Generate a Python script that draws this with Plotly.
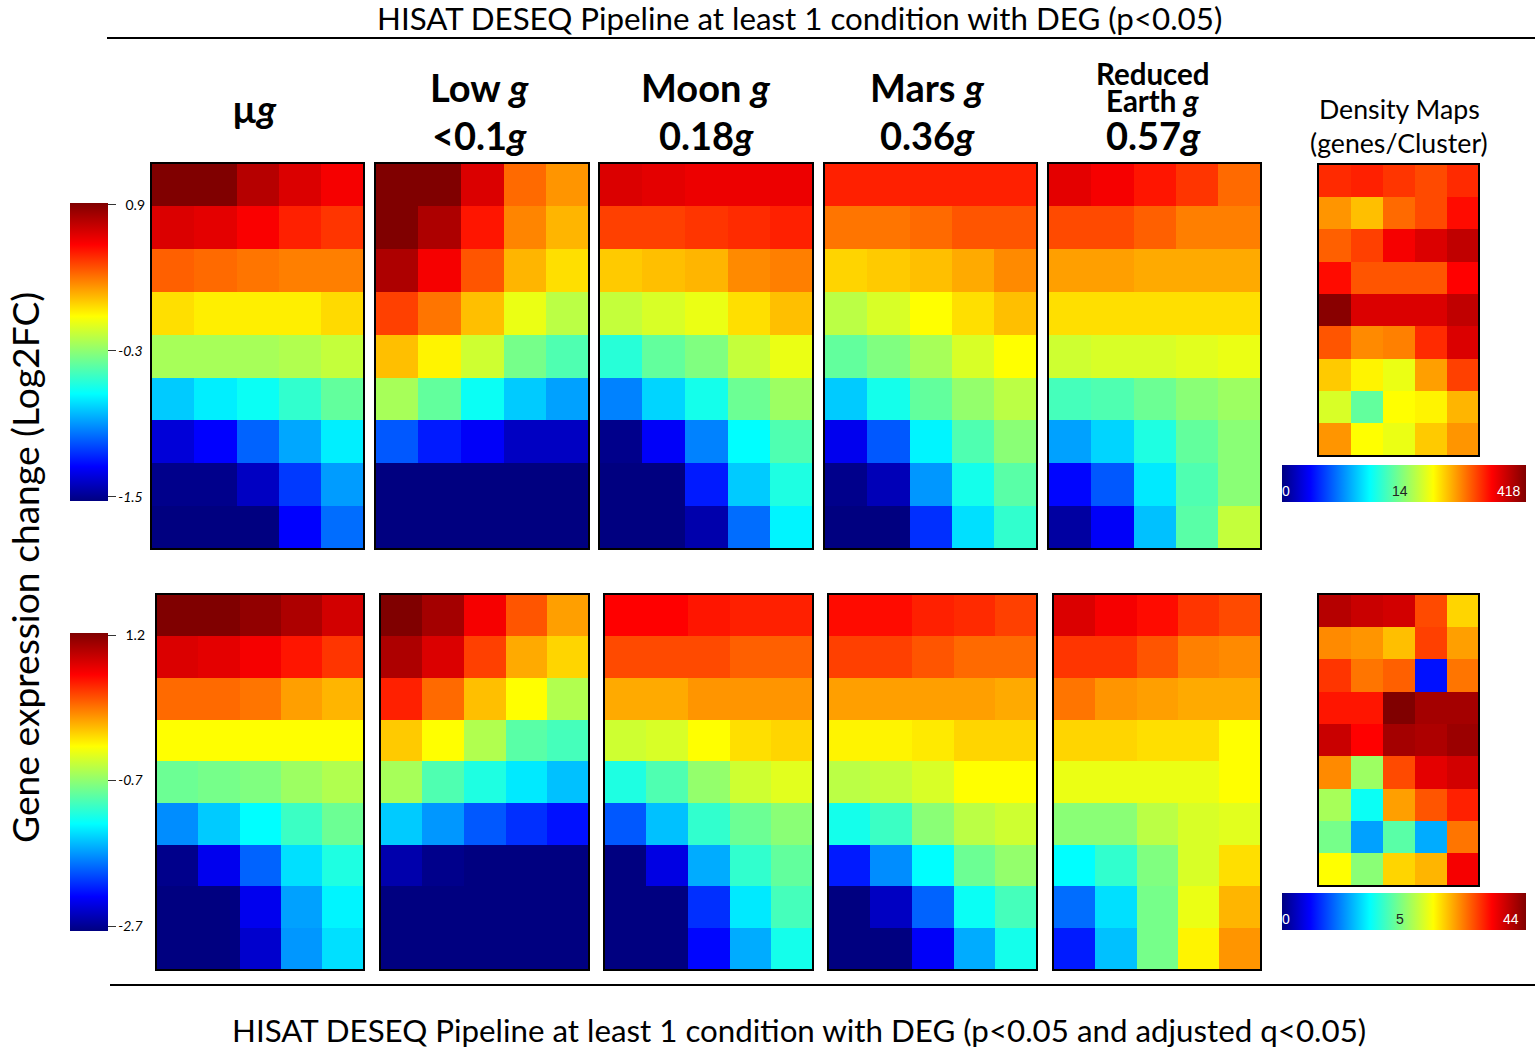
import plotly.graph_objects as go

# Cell values as positions (0-100) along each panel's colour bar.
ug_top = [[100,100,94,90,87],[90,89,86.5,83,81],[77,76,75,74,74],[65,63.5,63.5,63.5,65.5],[53,53,53,54,56],
          [31,34.5,37,41,46],[8,11.5,21,27.5,34.5],[1,1,6,17,26.5],[0,0,0,11.5,22]]
low_top = [[100,100,90,76,72],[100,95,84,73.5,69],[95,87,78,69,65],[80,75,68,60,55],[68,63,57,48,44],
           [53,46,37,31,27],[20,14,11,6,6],[0,0,0,0,0],[0,0,0,0,0]]
moon_top = [[90,89,88,88,88],[80,80,81,82,83],[67,68,69,73,74],[56,58,60,65,68],[40,46,49,56,60],
            [24,32,38,47,52],[1,11,24,36,44],[0,0,14,31,39],[0,0,4,22,35]]
mars_top = [[83,83,83,83,83],[75,75,76,78,78],[66,67,68,70,73],[55,58,62,65,68],[46,49,53,58,62],
            [31,38,46,51,55],[10,20,35,44,50],[1,5,26,38,45],[0,0,16,33,41]]
earth_top = [[89,87,84,81,76],[79,79,77,74,74],[71,71,70,70,70],[65,65,65,65,65],[57,58,58,59,60],
             [43,44,47,50,52],[27,32,39,46,50],[12,20,34,44,50],[3,11,30,45,56]]
density_top = [[82,83,81,79,82],[72,68,76,79,85],[77,80,87,90,93],[85,78,78,78,86],[99,90,90,90,93],
               [78,73,74,82,90],[67,63,60,71,80],[58,46,62,63,69],[72,62,60,67,72]]

ug_bot = [[100,100,98,95,91],[90,89,87,84,81],[76,76,75,71,69],[62,62,62,62,62],[47,48,49,52,54],
          [25,31,36,42,47],[1,10,21,33,39],[0,0,10,27,35],[0,0,7,26,33]]
low_bot = [[100,96,87,78,71],[95,90,80,70,66],[83,76,68,62,54],[67,62,54,45,43],[53,44,39,34,30],
           [31,26,20,16,13],[4,1,0,0,0],[0,0,0,0,0],[0,0,0,0,0]]
moon_bot = [[86,86,84,83,83],[79,79,79,77,77],[70,70,72,72,72],[57,58,62,65,66],[39,44,51,57,59],
            [20,30,41,47,50],[0,9,28,41,46],[0,0,16,34,43],[0,0,12,28,38]]
mars_bot = [[85,85,83,82,80],[80,80,78,76,76],[71,71,71,71,70],[63,63,64,66,66],[55,56,58,62,62],
            [38,42,50,55,57],[14,25,36,47,51],[0,6,21,37,43],[0,0,11,28,38]]
earth_bot = [[90,87,85,81,79],[81,81,78,74,73],[75,72,71,70,70],[66,66,65,65,62],[60,60,60,60,62],
             [50,50,55,58,59],[36,41,49,58,65],[22,33,48,60,69],[14,30,48,63,72]]
density_bot = [[94,92,91,79,66],[73,72,68,80,71],[81,75,77,13,75],[84,84,100,96,96],[92,86,96,95,97],
               [73,52,79,89,91],[53,37,71,78,83],[48,27,45,28,75],[62,50,66,69,87]]

title_top = "HISAT DESEQ Pipeline at least 1 condition with DEG (p&lt;0.05)"
title_bot = "HISAT DESEQ Pipeline at least 1 condition with DEG (p&lt;0.05 and adjusted q&lt;0.05)"
y_title = "Gene expression change (Log2FC)"
density_title = ["Density Maps", "(genes/Cluster)"]
ticks_top = [0.9, -0.3, -1.5]
ticks_bot = [1.2, -0.75, -2.7]
ticktext_top = ["&nbsp;&nbsp;0.9", "<i>-0.3</i>", "<i>-1.5</i>"]
ticktext_bot = ["&nbsp;&nbsp;1.2", "<i>-0.7</i>", "<i>-2.7</i>"]

W, H = 1535, 1050
JET = [[0, "rgb(0,0,128)"], [0.115, "rgb(0,0,255)"], [0.36, "rgb(0,255,255)"], [0.49, "rgb(128,255,128)"],
       [0.62, "rgb(255,255,0)"], [0.86, "rgb(255,0,0)"], [1, "rgb(128,0,0)"]]
FONT = "Lato"

fig = go.Figure()
layout = {}


def to_fc(rows, lo, hi):
    return [[lo + (hi - lo) * c / 100 for c in r] for r in rows]


def panel(n, z, box, ca):
    x0, x1, y0, y1 = box
    suffix = "" if n == 1 else str(n)
    fig.add_trace(go.Heatmap(z=z, coloraxis=ca, xaxis="x" + suffix, yaxis="y" + suffix, hoverongaps=False))
    common = dict(showline=True, mirror=True, linecolor="black", linewidth=1.5, showgrid=False,
                  zeroline=False, showticklabels=False, ticks="", fixedrange=True)
    layout["xaxis" + suffix] = dict(domain=[(x0 + 0.7) / W, (x1 - 0.7) / W], anchor="y" + suffix, **common)
    layout["yaxis" + suffix] = dict(domain=[1 - (y1 - 0.7) / H, 1 - (y0 + 0.7) / H], anchor="x" + suffix,
                                    autorange="reversed", **common)


lo_t, hi_t = -1.533, 0.916
lo_b, hi_b = -2.767, 1.227
top_x = [(151, 364), (375, 589), (599, 813), (824, 1037), (1048, 1261)]
bot_x = [(156, 364), (380, 589), (604, 813), (828, 1037), (1053, 1261)]
n = 1
for z, (a, b) in zip([ug_top, low_top, moon_top, mars_top, earth_top], top_x):
    panel(n, to_fc(z, lo_t, hi_t), (a, b, 163, 549), "coloraxis")
    n += 1
panel(n, density_top, (1318, 1479, 164, 456), "coloraxis3")
n += 1
for z, (a, b) in zip([ug_bot, low_bot, moon_bot, mars_bot, earth_bot], bot_x):
    panel(n, to_fc(z, lo_b, hi_b), (a, b, 594, 970), "coloraxis2")
    n += 1
panel(n, density_bot, (1318, 1479, 594, 886), "coloraxis4")


def vbar(top, ticks, text):
    return dict(x=70 / W, xanchor="left", y=1 - top / H, yanchor="top", lenmode="pixels", len=298,
                thicknessmode="pixels", thickness=38, xpad=0, ypad=0, outlinewidth=0, tickmode="array",
                tickvals=ticks, ticktext=text, ticks="outside", ticklen=8, tickwidth=1, tickcolor="#333",
                tickfont=dict(family=FONT, size=14, color="black"))


def hbar(top):
    return dict(orientation="h", x=1282 / W, xanchor="left", y=1 - top / H, yanchor="top", lenmode="pixels",
                len=244, thicknessmode="pixels", thickness=37, xpad=0, ypad=0, outlinewidth=0,
                ticks="", showticklabels=False)


layout["coloraxis"] = dict(colorscale=JET, cmin=lo_t, cmax=hi_t, colorbar=vbar(203, ticks_top, ticktext_top))
layout["coloraxis2"] = dict(colorscale=JET, cmin=lo_b, cmax=hi_b, colorbar=vbar(633, ticks_bot, ticktext_bot))
layout["coloraxis3"] = dict(colorscale=JET, cmin=0, cmax=100, colorbar=hbar(465))
layout["coloraxis4"] = dict(colorscale=JET, cmin=0, cmax=100, colorbar=hbar(893))


def note(x, y, text, size, color="black", angle=0, family=FONT):
    return dict(x=x / W, y=1 - y / H, xref="paper", yref="paper", text=text, showarrow=False,
                xanchor="center", yanchor="middle", textangle=angle,
                font=dict(family=family, size=size, color=color))


heads = [
    (255, 108, "<b>µ<i>g</i></b>", 38),
    (480, 87, "<b>Low <i>g</i></b>", 38),
    (480, 135, "<b>&lt;0.1<i>g</i></b>", 38),
    (706, 87, "<b>Moon <i>g</i></b>", 38),
    (706, 135, "<b>0.18<i>g</i></b>", 38),
    (927, 87, "<b>Mars <i>g</i></b>", 38),
    (927, 135, "<b>0.36<i>g</i></b>", 38),
    (1153, 73, "<b>Reduced</b>", 29.5),
    (1153, 100, "<b>Earth <i>g</i></b>", 29.5),
    (1153, 135, "<b>0.57<i>g</i></b>", 38),
]
ann = [note(x, y, t, s) for x, y, t, s in heads]
ann += [note(799, 18, title_top, 31.3), note(799, 1030, title_bot, 31.3),
        note(24, 568, y_title, 37.2, angle=-90),
        note(1399, 109, density_title[0], 26.7), note(1399, 143, density_title[1], 26.7),
        note(1286, 491, "0", 14, "white", family="Liberation Sans"),
        note(1400, 491, "14", 14, "#222", family="Liberation Sans"),
        note(1509, 491, "418", 14, "white", family="Liberation Sans"),
        note(1286, 919, "0", 14, "white", family="Liberation Sans"),
        note(1400, 919, "5", 14, "#222", family="Liberation Sans"),
        note(1511, 919, "44", 14, "white", family="Liberation Sans")]

shapes = [dict(type="line", xref="paper", yref="paper", x0=107 / W, x1=1, y0=1 - 38 / H, y1=1 - 38 / H,
               line=dict(color="black", width=2)),
          dict(type="line", xref="paper", yref="paper", x0=110 / W, x1=1, y0=1 - 985 / H, y1=1 - 985 / H,
               line=dict(color="black", width=2))]

fig.update_layout(width=W, height=H, margin=dict(l=0, r=0, t=0, b=0, autoexpand=False),
                  paper_bgcolor="white", plot_bgcolor="white", showlegend=False,
                  annotations=ann, shapes=shapes, **layout)
fig.write_html("out.html", config={"displayModeBar": False},
               post_script="document.body.style.margin='0';document.documentElement.style.overflow='hidden';")
